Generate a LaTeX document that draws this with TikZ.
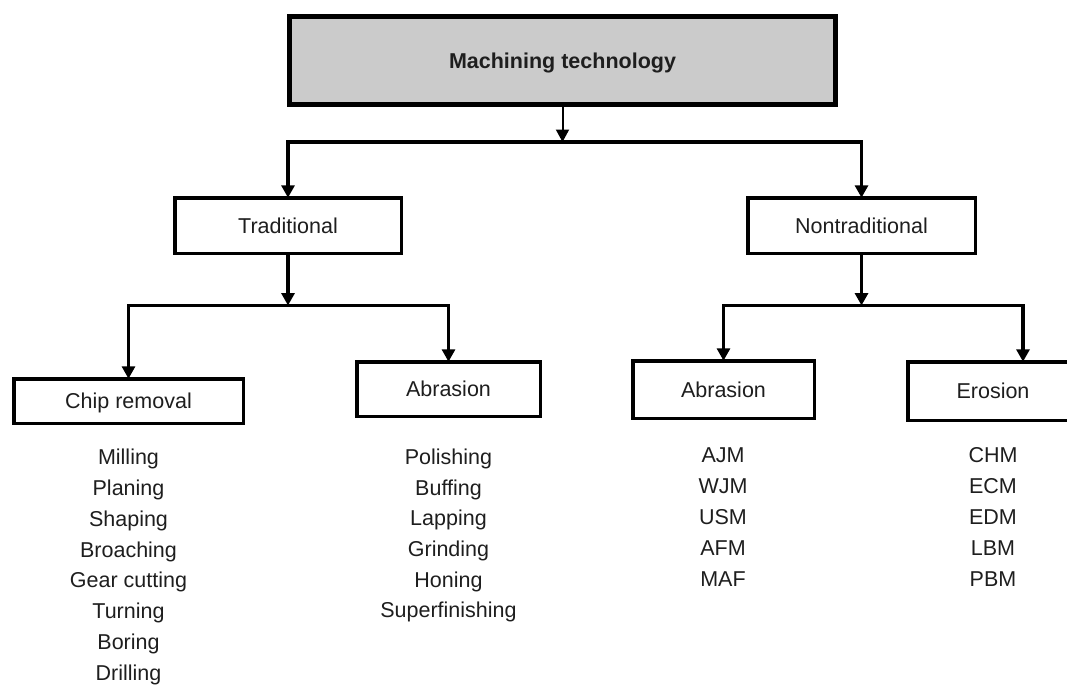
\documentclass[tikz,border=0pt]{standalone}
\usepackage{fontspec}
\setmainfont{Liberation Sans}
\usetikzlibrary{arrows.meta}
\definecolor{boxgray}{HTML}{CBCBCB}
\definecolor{txt}{HTML}{1E1E1E}
\begin{document}
\begin{tikzpicture}[x=1pt,y=-1pt,
  every node/.style={font=\fontsize{21.5}{26}\selectfont, text=txt},
  box/.style={draw=black, line width=3.5pt, inner sep=0pt, outer sep=0pt,
    text height=15.4pt, text depth=0pt, fill=white},
  topbox/.style={box, line width=5pt, fill=boxgray},
  item/.style={inner sep=0pt, text height=15.4pt, text depth=0pt},
  conn/.style={draw=black, line width=3.5pt},
  thinconn/.style={draw=black, line width=2pt},
  tip/.tip={Triangle[width=13pt,length=12.5pt]}
]
\useasboundingbox (0,0) rectangle (1067,686);

% boxes
\node[topbox, minimum width=546pt, minimum height=88pt] (top) at (562.5,60.5)
  {\bfseries Machining technology};
\node[box, minimum width=226.5pt, minimum height=55.5pt] (trad) at (288,225.5) {Traditional};
\node[box, minimum width=227.5pt, minimum height=55.5pt] (nontrad) at (861.5,225.5) {Nontraditional};
\node[box, minimum width=229.5pt, minimum height=44.5pt] (chip) at (128.5,401) {Chip removal};
\node[box, minimum width=183.5pt, minimum height=54.5pt] (abr1) at (448.5,389) {Abrasion};
\node[box, minimum width=181.5pt, minimum height=57.5pt] (abr2) at (723.5,389.5) {Abrasion};
\node[box, minimum width=170.5pt, minimum height=58.5pt] (ero) at (993,391) {Erosion};

% junctions
\coordinate (j0) at (562.5,142);
\coordinate (j1) at (288,305.5);
\coordinate (j2) at (861.5,305.5);

% connectors
\draw[thinconn,-{tip}] (top.south) -- (j0);
\draw[conn,{tip}-{tip}] (trad.north) |- (j0) -| (nontrad.north);
\draw[conn,-{tip}] (trad.south) -- (j1);
\draw[conn,{tip}-{tip}] (chip.north) |- (j1) -| (abr1.north);
\draw[conn,-{tip}] (nontrad.south) -- (j2);
\draw[conn,{tip}-{tip}] (abr2.north) |- (j2) -| ([xshift=30pt]ero.north);

% lists
\foreach \t [count=\i] in {Milling,Planing,Shaping,Broaching,Gear cutting,Turning,Boring,Drilling}
  \node[item] (la\i) at (128.5,{457+30.8*(\i-1)}) {\t};
\foreach \t [count=\i] in {Polishing,Buffing,Lapping,Grinding,Honing,Superfinishing}
  \node[item] (lb\i) at (448.5,{457+30.6*(\i-1)}) {\t};
\foreach \t [count=\i] in {AJM,WJM,USM,AFM,MAF}
  \node[item] (lc\i) at (723,{455+31*(\i-1)}) {\t};
\foreach \t [count=\i] in {CHM,ECM,EDM,LBM,PBM}
  \node[item] (ld\i) at (993,{455+31*(\i-1)}) {\t};
\end{tikzpicture}
\end{document}
